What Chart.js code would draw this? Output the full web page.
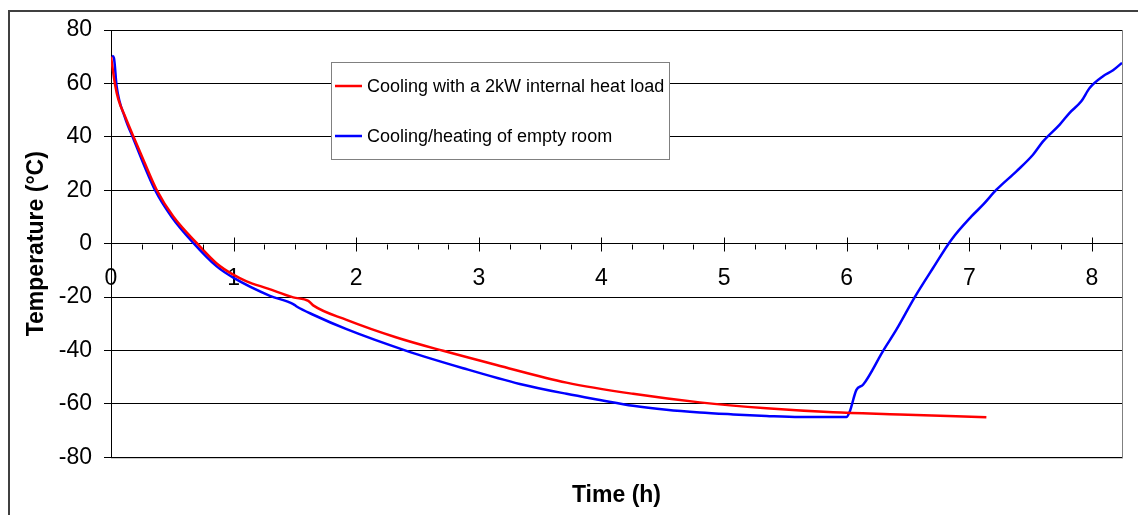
<!DOCTYPE html>
<html>
<head>
<meta charset="utf-8">
<script src="https://cdn.jsdelivr.net/npm/chart.js@4"></script>
<style>
  body { margin: 0; background: #fff; }
  #wrap { width: 1138px; height: 515px; }
</style>
</head>
<body>
<div id="wrap"><canvas id="tempChart" width="1138" height="515"></canvas></div>
<script>
// valores (tiempo en h, temperatura en °C)
const seriesLabels = ['Cooling with a 2kW internal heat load', 'Cooling/heating of empty room'];

const redHours = [0, 0.033, 0.06, 0.114, 0.182, 0.263, 0.372, 0.508, 0.698, 0.862, 0.997, 1.106, 1.28, 1.486,
    1.609, 1.649, 1.921, 2.329, 2.709, 3.144, 3.715, 4.258, 4.802, 5.346, 5.889, 6.432, 7.139];
const redTemps = [70, 59.6, 54, 47.7, 40.2, 31.5, 20.2, 10.2, 0.3, -7.4, -11.6, -14.1, -16.8, -20.1,
    -21.4, -23.1, -28.5, -35.1, -40.1, -45.4, -52, -56.2, -59.4, -61.6, -63.1, -63.9, -65.0];

const blueHours = [0.008, 0.024, 0.046, 0.114, 0.18, 0.36, 0.495, 0.671, 0.862, 0.997, 1.296, 1.486, 1.514,
    1.649, 1.921, 2.41, 2.872, 3.334, 3.715, 3.987, 4.258, 4.53, 4.802, 5.074, 5.346, 5.617, 5.998,
    6.025, 6.079, 6.133, 6.297, 6.405, 6.555, 6.704, 6.854, 7.017, 7.112, 7.221, 7.384, 7.519, 7.601,
    7.737, 7.818, 7.913, 7.981, 8.09, 8.172, 8.245];
const blueTemps = [70.4, 69.5, 58.9, 47.2, 39.6, 20, 10, 0.3, -8.5, -12.7, -19.5, -22.6, -23.5,
    -26.6, -32, -40.1, -46.6, -52.5, -56.2, -58.5, -60.7, -62.2, -63.2, -63.9, -64.5, -64.9, -64.9,
    -62.8, -54.7, -52.8, -40.1, -32.2, -20, -9.1, 1.5, 10.2, 14.6, 20.2, 27.1, 33.3, 38.3,
    44.6, 49, 53.3, 58.3, 62.7, 64.9, 67.7];

const xMin = 0, xMax = 8.245;
const yMin = -80, yMax = 80, yStep = 20;

const toPoints = (hs, ts) => hs.map((h, i) => ({ x: h, y: ts[i] }));

Chart.defaults.font.family = '"Liberation Sans", Arial, sans-serif';
Chart.defaults.color = '#000';

// marco exterior, borde del área y marcas del eje x
const framePlugin = {
    id: 'frame',
    beforeDraw(chart) {
        const { ctx, chartArea: a } = chart;
        ctx.save();
        ctx.strokeStyle = '#404040';
        ctx.lineWidth = 2;
        ctx.strokeRect(9, 11, 1200, 600);
        ctx.strokeStyle = '#808080';
        ctx.lineWidth = 1;
        ctx.strokeRect(a.left + 0.5, a.top + 0.5, a.right - a.left, a.bottom - a.top);
        ctx.restore();
    },
    afterDraw(chart) {
        const { ctx } = chart;
        const xs = chart.scales.x, ys = chart.scales.y;
        const y0 = Math.round(ys.getPixelForValue(0)) + 0.5;
        ctx.save();
        ctx.strokeStyle = '#000';
        ctx.lineWidth = 1;
        xs.ticks.forEach(t => {
            const v = t.value;
            if (Math.abs(v * 4 - Math.round(v * 4)) > 1e-6) return;
            const px = Math.round(xs.getPixelForValue(v)) + 0.5;
            const major = Math.abs(v - Math.round(v)) < 1e-6;
            ctx.beginPath();
            ctx.moveTo(px, major ? y0 - 7 : y0);
            ctx.lineTo(px, major ? y0 + 7 : y0 + 5);
            ctx.stroke();
        });

        // leyenda
        const box = { x: 331, y: 62, w: 338, h: 97 };
        ctx.fillStyle = '#fff';
        ctx.fillRect(box.x, box.y, box.w, box.h);
        ctx.strokeStyle = '#808080';
        ctx.strokeRect(box.x + 0.5, box.y + 0.5, box.w, box.h);
        const rows = [86, 136];
        chart.data.datasets.forEach((ds, i) => {
            ctx.strokeStyle = ds.borderColor;
            ctx.lineWidth = 2.5;
            ctx.beginPath();
            ctx.moveTo(335, rows[i]);
            ctx.lineTo(362, rows[i]);
            ctx.stroke();
            ctx.fillStyle = '#000';
            ctx.font = '18px "Liberation Sans", Arial, sans-serif';
            ctx.textBaseline = 'middle';
            ctx.fillText(ds.label, 367, rows[i] + 1);
        });
        ctx.restore();
    }
};

const ctx = document.getElementById('tempChart').getContext('2d');
const chart = new Chart(ctx, {
    type: 'line',
    data: {
        datasets: [{
            label: seriesLabels[0],
            data: toPoints(redHours, redTemps),
            borderColor: '#ff0000',
            borderWidth: 2.5,
            pointRadius: 0,
            cubicInterpolationMode: 'monotone'
        }, {
            label: seriesLabels[1],
            data: toPoints(blueHours, blueTemps),
            borderColor: '#0000ff',
            borderWidth: 2.5,
            pointRadius: 0,
            cubicInterpolationMode: 'monotone'
        }]
    },
    options: {
        responsive: false,
        animation: false,
        events: [],
        layout: { padding: { left: 0, right: 16, top: 30, bottom: 0 } },
        scales: {
            x: {
                type: 'linear',
                min: xMin,
                max: xMax,
                position: { y: 0 },
                border: { color: '#000', width: 1 },
                grid: { display: false, drawTicks: false },
                ticks: {
                    stepSize: 0.25,
                    includeBounds: false,
                    autoSkip: false,
                    maxRotation: 0,
                    padding: 21,
                    font: { size: 23 },
                    callback: v => Math.abs(v - Math.round(v)) < 1e-6 ? String(Math.round(v)) : ''
                }
            },
            y: {
                min: yMin,
                max: yMax,
                border: { color: '#000', width: 1 },
                grid: { color: '#000', tickLength: 7, lineWidth: 1 },
                ticks: { stepSize: yStep, padding: 12, font: { size: 23 } },
                title: {
                    display: true,
                    text: 'Temperature (°C)',
                    font: { size: 23, weight: 'bold' },
                    padding: { top: 23, bottom: 0 }
                },
                afterFit: s => { s.width = 111; }
            }
        },
        plugins: {
            legend: { display: false },
            tooltip: { enabled: false },
            title: {
                display: true,
                text: 'Time (h)',
                position: 'bottom',
                fullSize: false,
                font: { size: 23, weight: 'bold' },
                padding: { top: 24, bottom: 6 }
            }
        }
    },
    plugins: [framePlugin]
});
</script>
</body>
</html>
